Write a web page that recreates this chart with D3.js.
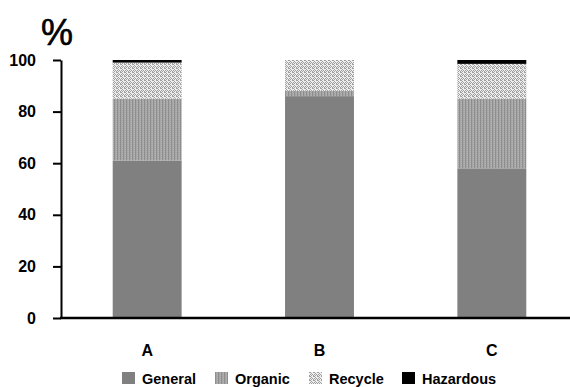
<!DOCTYPE html>
<html>
<head>
<meta charset="utf-8">
<script src="https://cdn.jsdelivr.net/npm/d3@7"></script>
<style>
  html, body { margin: 0; padding: 0; background: #fff; }
  svg { display: block; font-family: Arial, "Liberation Sans", sans-serif; }
</style>
</head>
<body>
<svg id="chart" width="570" height="387"></svg>
<script>
// Waste composition by site (% of total)
const sites = ["A", "B", "C"];
const wasteTypes = ["General", "Organic", "Recycle", "Hazardous"];
const general   = [61, 86, 58];
const organic   = [24, 2, 27];
const recycle   = [14, 12, 13.5];
const hazardous = [1, 0, 1.5];
const yTicks = [0, 20, 40, 60, 80, 100];

const rows = sites.map((s, i) => ({
  site: s,
  General: general[i],
  Organic: organic[i],
  Recycle: recycle[i],
  Hazardous: hazardous[i]
}));

const svg = d3.select("#chart");
const defs = svg.append("defs");

// fine vertical stripes for organic waste
const pOrg = defs.append("pattern").attr("id", "pat-organic")
  .attr("patternUnits", "userSpaceOnUse").attr("width", 3).attr("height", 2);
pOrg.append("rect").attr("width", 3).attr("height", 2).attr("fill", "#a6a6a6");
pOrg.append("rect").attr("x", 0).attr("width", 1).attr("height", 2).attr("fill", "#8e8e8e");
pOrg.append("rect").attr("x", 2).attr("y", 1).attr("width", 1).attr("height", 1).attr("fill", "#b4b4b4");

// speckled texture for recyclables
const pRec = defs.append("pattern").attr("id", "pat-recycle")
  .attr("patternUnits", "userSpaceOnUse").attr("width", 4).attr("height", 4);
pRec.append("rect").attr("width", 4).attr("height", 4).attr("fill", "#eeeeee");
[[0,0],[1,0],[2,1],[3,2],[0,3],[2,3],[1,2]].forEach(([x, y]) => {
  pRec.append("rect").attr("x", x).attr("y", y).attr("width", 1).attr("height", 1).attr("fill", "#a0a0a0");
});

const fills = {
  General: "#808080",
  Organic: "url(#pat-organic)",
  Recycle: "url(#pat-recycle)",
  Hazardous: "#000000"
};

const x = d3.scaleBand().domain(sites).range([61, 578])
  .paddingInner(0.6).paddingOuter(0.3);
const y = d3.scaleLinear().domain([0, 100]).range([318, 60]);

const stacked = d3.stack().keys(wasteTypes)(rows);

svg.append("g").selectAll("g")
  .data(stacked)
  .join("g")
  .attr("fill", d => fills[d.key])
  .selectAll("rect")
  .data(d => d)
  .join("rect")
  .attr("x", d => x(d.data.site))
  .attr("width", x.bandwidth())
  .attr("y", d => y(d[1]))
  .attr("height", d => y(d[0]) - y(d[1]));

// y axis
const yAxis = svg.append("g").attr("transform", "translate(61,0)")
  .call(d3.axisLeft(y).tickValues(yTicks).tickSize(8).tickPadding(17).tickSizeOuter(0));
yAxis.select(".domain").attr("stroke", "#000").attr("stroke-width", 2);
yAxis.selectAll(".tick line").attr("stroke", "#000").attr("stroke-width", 2);
yAxis.selectAll(".tick text")
  .attr("font-size", 16).attr("font-weight", "bold").attr("fill", "#000")
  .attr("font-family", "Arial, 'Liberation Sans', sans-serif");

// x axis baseline
svg.append("line")
  .attr("x1", 60).attr("x2", 570)
  .attr("y1", y(0)).attr("y2", y(0))
  .attr("stroke", "#000").attr("stroke-width", 2.5);

// category labels
svg.append("g").selectAll("text")
  .data(sites)
  .join("text")
  .attr("x", d => x(d) + x.bandwidth() / 2)
  .attr("y", 356)
  .attr("text-anchor", "middle")
  .attr("font-size", 16).attr("font-weight", "bold")
  .text(d => d);

// unit label
svg.append("text")
  .attr("x", 41).attr("y", 45)
  .attr("font-size", 36)
  .attr("stroke", "#000").attr("stroke-width", 0.6)
  .text("%");

// legend
const legendX = [122, 215, 309, 402];
const legend = svg.append("g").selectAll("g")
  .data(wasteTypes)
  .join("g")
  .attr("transform", (d, i) => `translate(${legendX[i]},372)`);
legend.append("rect")
  .attr("width", 13).attr("height", 12)
  .attr("fill", d => fills[d]);
legend.append("text")
  .attr("x", 20).attr("y", 11.5)
  .attr("font-size", 14.5).attr("font-weight", "bold")
  .text(d => d);
</script>
</body>
</html>
